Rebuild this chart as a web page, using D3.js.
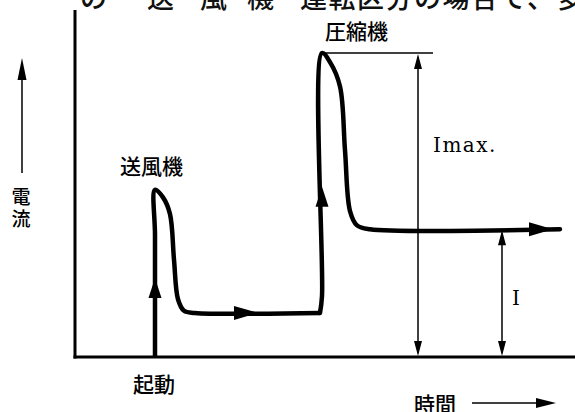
<!DOCTYPE html>
<html><head><meta charset="utf-8">
<script src="https://cdn.jsdelivr.net/npm/d3@7"></script>
<style>html,body{margin:0;padding:0;background:#fff;}svg{display:block;}</style>
</head><body>
<script>
// ---- data (time, current in relative units) ----
const fanCurve = [[16,0],[16,40],[16,55],[17.6,52.5],[19,47],[19.8,32],[20.6,19],[21.8,15.2],[24,14.5],[49,14.5]];
const compCurve = [[49,14.5],[49.4,20],[49.4,100],[51,97],[53,89],[54,68],[55,48],[56.4,43.3],[59,42],[97,42]];
const upArrows = [[16,26],[49.4,56]];
const rightArrows = [[36.6,14.5],[95.6,42]];
const peakCurrent = 100, steadyCurrent = 42;
const imaxTime = 68.6, iTime = 85.4, peakLineEnd = 71.6;
const labels = {fan:"送風機", comp:"圧縮機", start:"起動", time:"時間", current:"電流", imax:"Imax.", i:"I"};
const topText = ["の","送","風","機","運転区分の場合で、多"];

const W = 575, H = 412;
const svg = d3.select("body").append("svg").attr("width", W).attr("height", H);
const x = d3.scaleLinear().domain([0,100]).range([75,575]);
const y = d3.scaleLinear().domain([0,100]).range([357,53]);

const jp = "'Noto Sans CJK JP', sans-serif";

// cut-off text line from the page above
const tt = svg.append("text").attr("y", 8).attr("font-family", jp).attr("font-size", 27)
  .attr("font-weight", 500).attr("fill","#111");
[[80,0],[147,1],[200,2],[247,3]].forEach(([px,i])=>tt.append("tspan").attr("x",px).text(topText[i]));
tt.append("tspan").attr("x",300).attr("letter-spacing",1.5).text(topText[4]);

// axes
svg.append("line").attr("x1",x(0)).attr("x2",x(0)).attr("y1",10).attr("y2",y(0)+1.5)
  .attr("stroke","#000").attr("stroke-width",3);
svg.append("line").attr("x1",x(0)-1.5).attr("x2",W).attr("y1",y(0)).attr("y2",y(0))
  .attr("stroke","#000").attr("stroke-width",3);

// current curve
const line = d3.line().x(d=>x(d[0])).y(d=>y(d[1])).curve(d3.curveCatmullRom.alpha(0.5));
svg.append("path").attr("d", line(fanCurve)).attr("fill","none").attr("stroke","#000")
  .attr("stroke-width",4.5).attr("stroke-linejoin","round");
svg.append("path").attr("d", line(compCurve)).attr("fill","none").attr("stroke","#000")
  .attr("stroke-width",4.5).attr("stroke-linejoin","round").attr("stroke-linecap","round");

// arrowheads on curve
function tri(tx,ty,dir,len,wid){
  if(dir==='up') return `M${tx},${ty} L${tx-wid/2},${ty+len} L${tx+wid/2},${ty+len} Z`;
  if(dir==='down') return `M${tx},${ty} L${tx-wid/2},${ty-len} L${tx+wid/2},${ty-len} Z`;
  return `M${tx},${ty} L${tx-len},${ty-wid/2} L${tx-len},${ty+wid/2} Z`;
}
upArrows.forEach(d=>svg.append("path").attr("d",tri(x(d[0]),y(d[1]),'up',20,13)).attr("fill","#000"));
rightArrows.forEach(d=>svg.append("path").attr("d",tri(x(d[0]),y(d[1]),'right',24,14)).attr("fill","#000"));

// peak reference line
svg.append("line").attr("x1",x(49.4)).attr("x2",x(peakLineEnd)).attr("y1",y(peakCurrent)).attr("y2",y(peakCurrent))
  .attr("stroke","#000").attr("stroke-width",1.6);

// dimension arrows
function dim(t, top){
  const px = x(t);
  svg.append("line").attr("x1",px).attr("x2",px).attr("y1",y(top)+4).attr("y2",y(0)-4)
    .attr("stroke","#000").attr("stroke-width",1.5);
  svg.append("path").attr("d",tri(px,y(top)+1,'up',15,8)).attr("fill","#000");
  svg.append("path").attr("d",tri(px,y(0)-1,'down',15,8)).attr("fill","#000");
}
dim(imaxTime, peakCurrent);
dim(iTime, steadyCurrent);

// small y-direction arrow
svg.append("line").attr("x1",22).attr("x2",22).attr("y1",173).attr("y2",70).attr("stroke","#000").attr("stroke-width",1.5);
svg.append("path").attr("d",tri(22,58,'up',22,9)).attr("fill","#000");

// time arrow
svg.append("line").attr("x1",472).attr("x2",540).attr("y1",403).attr("y2",403).attr("stroke","#000").attr("stroke-width",1.5);
svg.append("path").attr("d",tri(556,403,'right',20,10)).attr("fill","#000");

// labels
const lab = (tx,ty,s,size)=>svg.append("text").attr("x",tx).attr("y",ty).attr("font-family",jp)
  .attr("font-size",size).attr("font-weight",500).text(s);
lab(120,174,labels.fan,21);
lab(325,39,labels.comp,21);
lab(133,392,labels.start,21);
lab(414,412,labels.time,21);
svg.append("text").attr("x",21).attr("y",187).attr("font-family",jp).attr("font-size",19)
  .attr("font-weight",500).attr("writing-mode","vertical-rl").attr("letter-spacing",3).text(labels.current);
svg.append("text").attr("x",433).attr("y",152).attr("font-family","'DejaVu Serif', serif").attr("font-size",20)
  .attr("letter-spacing",1.5).text(labels.imax);
svg.append("text").attr("x",512).attr("y",305).attr("font-family","'DejaVu Serif', serif").attr("font-size",20).text(labels.i);
</script>
</body></html>
